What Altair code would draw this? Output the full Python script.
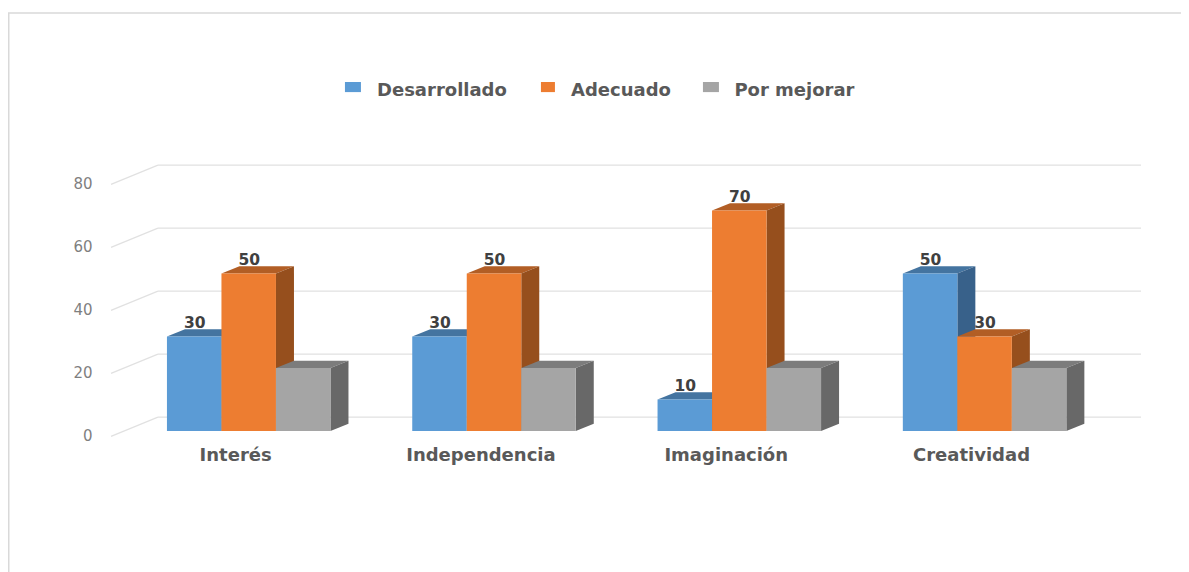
import altair as alt
import pandas as pd

categories = ["Interés", "Independencia", "Imaginación", "Creatividad"]
series = ["Desarrollado", "Adecuado", "Por mejorar"]
desarrollado = [30, 30, 10, 50]
adecuado = [50, 50, 70, 30]
por_mejorar = [20, 20, 20, 20]
ticks = [0, 20, 40, 60, 80]
front_colors = ["#5B9BD5", "#ED7D31", "#A5A5A5"]
top_colors = ["#4474A0", "#B25E25", "#7C7C7C"]
side_colors = ["#38618A", "#964F1D", "#686868"]

BAR_W = 0.2222
DX, DY = 0.0734, 2.32
X_DOM = [-0.648, 4.134]
Y_DOM = [-44.76, 134.3]
W, H = 1173, 564
xs = alt.Scale(domain=X_DOM, nice=False, zero=False)
ys = alt.Scale(domain=Y_DOM, nice=False, zero=False)
y_axis = alt.Axis(
    values=ticks, domain=False, ticks=False, grid=False, title=None,
    labelFontSize=15, labelColor="#7F7F7F", labelFont="DejaVu Sans",
    labelPadding=-84, labelOffset=4,
)
X = lambda f: alt.X(f, type="quantitative", scale=xs, axis=None)
Y = lambda f: alt.Y(f, type="quantitative", scale=ys, axis=y_axis)

fronts, tops, sides, labels = [], [], [], []
for s, vals in enumerate([desarrollado, adecuado, por_mejorar]):
    for g, v in enumerate(vals):
        x0 = g + s * BAR_W
        x1 = x0 + BAR_W
        k = f"{g}-{s}"
        fronts.append(dict(s=s, name=series[s], x=x0, x2=x1, y=0, y2=v))
        tops += [
            dict(s=s, k=k, x=x0, y=v, y2=v),
            dict(s=s, k=k, x=x0 + DX, y=v, y2=v + DY),
            dict(s=s, k=k, x=x1, y=v, y2=v + DY),
            dict(s=s, k=k, x=x1 + DX, y=v + DY, y2=v + DY),
        ]
        sides += [
            dict(s=s, k=k, x=x1, y=0, y2=v),
            dict(s=s, k=k, x=x1 + DX, y=DY, y2=v + DY),
        ]
        if s < 2:
            labels.append(dict(x=x0 + 0.113, y=v + 2.6, t=str(v)))
fronts, tops, sides = map(pd.DataFrame, (fronts, tops, sides))

grid_back = pd.DataFrame(
    [dict(k=t, x=-0.0367, y=t + 4.44) for t in ticks]
    + [dict(k=t, x=3.971, y=t + 4.44) for t in ticks]
)
grid_side = pd.DataFrame(
    [dict(k=t, x=-0.228, y=t - 1.7) for t in ticks]
    + [dict(k=t, x=-0.0367, y=t + 4.44) for t in ticks]
)
grey = "#E1E1E1"
back = alt.Chart(grid_back).mark_line(color=grey, strokeWidth=1.3).encode(x=X("x"), y=Y("y"), detail="k:N")
slant = alt.Chart(grid_side).mark_line(color=grey, strokeWidth=1.3).encode(x=X("x"), y=Y("y"), detail="k:N")

value_text = alt.Chart(pd.DataFrame(labels)).mark_text(
    font="DejaVu Sans", fontWeight="bold", fontSize=15.5, color="#404040", baseline="alphabetic"
).encode(x=X("x"), y=Y("y"), text="t:N")

cat_df = pd.DataFrame({"c": categories, "x": [i + 0.28 for i in range(4)], "y": [-9.6] * 4})
cat_text = alt.Chart(cat_df).mark_text(
    font="DejaVu Sans", fontWeight="bold", fontSize=18, color="#595959", baseline="alphabetic"
).encode(x=X("x"), y=Y("y"), text="c:N")

bar_layers = []
for s in range(3):
    bar_layers += [
        alt.Chart(tops[tops.s == s]).mark_area(color=top_colors[s]).encode(
            x=X("x"), y=Y("y"), y2="y2:Q", detail="k:N"),
        alt.Chart(sides[sides.s == s]).mark_area(color=side_colors[s]).encode(
            x=X("x"), y=Y("y"), y2="y2:Q", detail="k:N"),
        alt.Chart(fronts[fronts.s == s]).mark_rect(color=front_colors[s]).encode(
            x=X("x"), x2="x2:Q", y=Y("y"), y2="y2:Q"),
    ]

legend_df = pd.DataFrame({
    "name": series,
    "lx": [(345 - 167) / 245.3, (541 - 167) / 245.3, (703 - 167) / 245.3],
    "lx2": [(361 - 167) / 245.3, (555 - 167) / 245.3, (719 - 167) / 245.3],
    "tx": [(442 - 167) / 245.3, (621 - 167) / 245.3, (794.5 - 167) / 245.3],
    "y0": [107.6] * 3, "y1": [110.8] * 3, "ty": [106.5] * 3,
    "color": front_colors,
})
leg_rect = alt.Chart(legend_df).mark_rect().encode(
    x=X("lx"), x2="lx2:Q", y=Y("y0"), y2="y1:Q", color=alt.Color("color:N", scale=None))
leg_text = alt.Chart(legend_df).mark_text(
    font="DejaVu Sans", fontWeight="bold", fontSize=18, color="#595959", baseline="alphabetic"
).encode(x=X("tx"), y=Y("ty"), text="name:N")

frame_top = alt.Chart(pd.DataFrame({"x": X_DOM, "y": [132.7, 132.7]})).mark_line(
    color="#D9D9D9", strokeWidth=1.5).encode(x=X("x"), y=Y("y"))
frame_left = alt.Chart(pd.DataFrame({"x": [X_DOM[0], X_DOM[0]], "y": [132.7, Y_DOM[0]]})).mark_line(
    color="#D9D9D9", strokeWidth=3).encode(x=X("x"), y=Y("y"))

chart = alt.layer(
    frame_top, frame_left, back, slant, value_text, cat_text,
    *bar_layers, leg_rect, leg_text,
).properties(width=W, height=H, padding=0, autosize=alt.AutoSizeParams(type="none")).configure_view(stroke=None)

chart.save("out.html", embed_options={"renderer": "svg", "actions": False})
